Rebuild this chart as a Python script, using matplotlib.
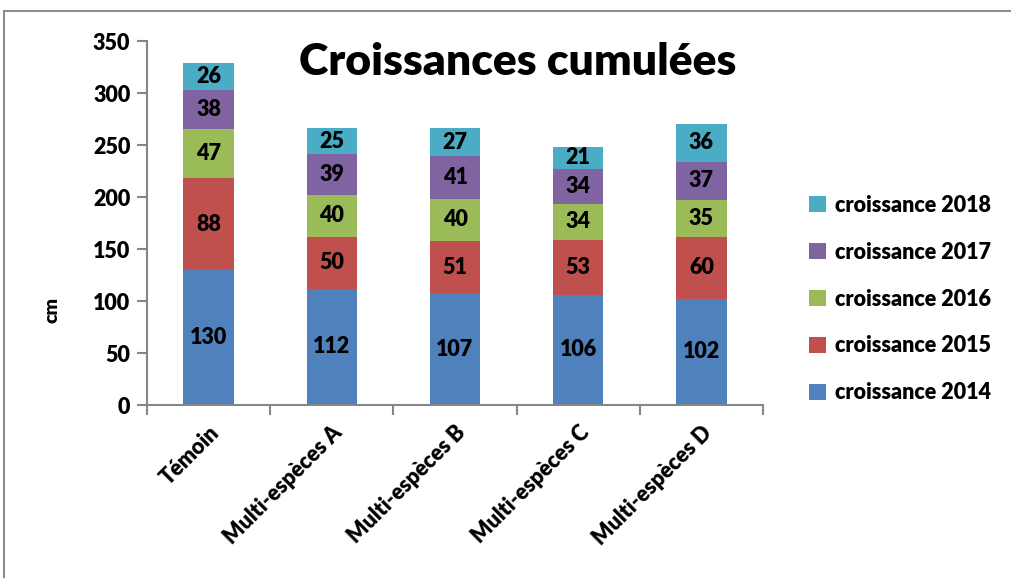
import numpy as np
from matplotlib import pyplot as plt
from matplotlib.patches import Rectangle

categories = ['Témoin', 'Multi-espèces A', 'Multi-espèces B', 'Multi-espèces C', 'Multi-espèces D']
series_names = ['croissance 2014', 'croissance 2015', 'croissance 2016', 'croissance 2017', 'croissance 2018']
c2014 = [130, 112, 107, 106, 102]
c2015 = [88, 50, 51, 53, 60]
c2016 = [47, 40, 40, 34, 35]
c2017 = [38, 39, 41, 34, 37]
c2018 = [26, 25, 27, 21, 36]
colors = ['#4F81BD', '#C0504D', '#9BBB59', '#8064A2', '#4BACC6']

plt.rcParams['font.family'] = ['Lato', 'DejaVu Sans']
plt.rcParams['font.weight'] = 'heavy'
W = 'heavy'

fig = plt.figure(figsize=(10.11, 5.78), dpi=100)
ax = fig.add_axes([147 / 1011, 1 - 405 / 578, 616 / 1011, 364 / 578])

# frame of the chart area
fig.patches.append(Rectangle((4 / 1011, -0.1), 1.2, 1 - 11 / 578 + 0.1, transform=fig.transFigure,
                             fill=False, edgecolor='#8c8c8c', linewidth=1.5))

x = np.arange(len(categories))
bottom = np.zeros(len(categories))
handles = []
for name, vals, col in zip(series_names, [c2014, c2015, c2016, c2017, c2018], colors):
    b = ax.bar(x, vals, 0.41, bottom=bottom, color=col, label=name)
    handles.append(b)
    for xi, v, bt in zip(x, vals, bottom):
        ax.text(xi, bt + v / 2, str(v), ha='center', va='center', fontsize=15.5, fontweight=W, color='black')
    bottom += np.array(vals)

ax.set_xlim(-0.5, len(categories) - 0.5)
ax.set_ylim(0, 350)
ax.set_yticks(range(0, 351, 50))
ax.set_xticks(np.arange(-0.5, len(categories), 1.0))
ax.set_xticks(x, minor=True)
ax.set_xticklabels([])
ax.set_xticklabels(categories, minor=True, rotation=45, ha='right', rotation_mode='anchor',
                   fontsize=15.5, fontweight=W)
ax.tick_params(axis='x', which='minor', length=0, pad=12)
ax.tick_params(axis='x', which='major', length=7, color='#868686', width=1.5)
ax.tick_params(axis='y', length=7, color='#868686', width=1.5, labelsize=15.5, pad=5)
for sp in ['top', 'right']:
    ax.spines[sp].set_visible(False)
for sp in ['left', 'bottom']:
    ax.spines[sp].set_color('#868686')
    ax.spines[sp].set_linewidth(1.5)

ax.set_ylabel('cm', fontsize=14, fontweight=W)
ax.yaxis.set_label_coords(-0.14, 0.26)
fig.text(518 / 1011, 1 - 62 / 578, 'Croissances cumulées', ha='center', va='center',
         fontsize=32, fontweight=W)

fig.legend(handles[::-1], series_names[::-1], loc='center left', bbox_to_anchor=(790 / 1011, 1 - 299 / 578),
           frameon=False, fontsize=15.5, handlelength=0.75, handleheight=0.75, labelspacing=1.2,
           handletextpad=0.45)

plt.savefig('out.png', dpi=100)
